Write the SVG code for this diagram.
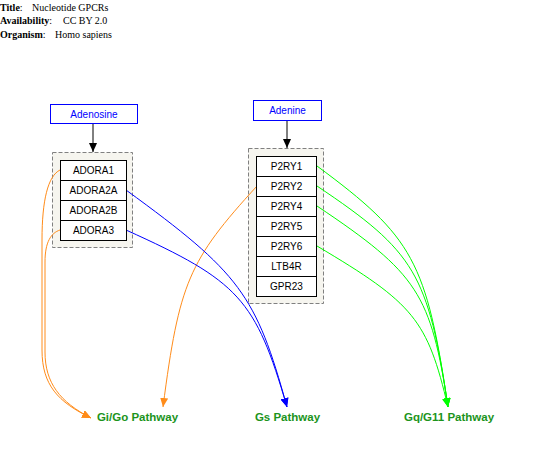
<svg xmlns="http://www.w3.org/2000/svg" width="549" height="458" viewBox="0 0 549 458">
<style>
.hdr{font-family:"Liberation Serif","Times New Roman",serif;font-size:10px;fill:#000}
.hdr .b{font-weight:bold}
.grp{fill:#f6f5ef;stroke:#808080;stroke-width:1;stroke-dasharray:4,2}
.node rect{fill:#fff;stroke:#000;stroke-width:1}
.node text{font-family:"Liberation Sans",Arial,sans-serif;font-size:10px;fill:#000;text-anchor:middle}
.lig rect{fill:#fff;stroke:#0000ff;stroke-width:1}
.lig text{font-family:"Liberation Sans",Arial,sans-serif;font-size:10px;fill:#0000ff;text-anchor:middle}
.pw text{font-family:"Liberation Sans",Arial,sans-serif;font-size:11.5px;font-weight:bold;fill:#1c941c;text-anchor:middle}
.c{fill:none;stroke-width:1}
.k{stroke:#000;marker-end:url(#ak)}
.o{stroke:#ff8c1a;marker-end:url(#ao)}
.bl{stroke:#0000ff;marker-end:url(#ab)}
.g{stroke:#00ff00;marker-end:url(#ag)}
</style>
<defs>
<marker id="ak" viewBox="0 0 9 8" refX="9" refY="4" markerWidth="9" markerHeight="8" markerUnits="userSpaceOnUse" orient="auto"><path d="M0,0 L9,4 L0,8 z" fill="#000"/></marker>
<marker id="ao" viewBox="0 0 9 8" refX="9" refY="4" markerWidth="9" markerHeight="8" markerUnits="userSpaceOnUse" orient="auto"><path d="M0,0 L9,4 L0,8 z" fill="#ff8c1a"/></marker>
<marker id="ab" viewBox="0 0 9 8" refX="9" refY="4" markerWidth="9" markerHeight="8" markerUnits="userSpaceOnUse" orient="auto"><path d="M0,0 L9,4 L0,8 z" fill="#0000ff"/></marker>
<marker id="ag" viewBox="0 0 9 8" refX="9" refY="4" markerWidth="9" markerHeight="8" markerUnits="userSpaceOnUse" orient="auto"><path d="M0,0 L9,4 L0,8 z" fill="#00ff00"/></marker>
</defs>
<rect width="549" height="458" fill="#fff"/>
<g id="header" class="hdr">
<text x="0" y="11"><tspan class="b">Title</tspan>:</text><text x="32" y="11">Nucleotide GPCRs</text>
<text x="0" y="24"><tspan class="b">Availability</tspan>:</text><text x="63" y="24">CC BY 2.0</text>
<text x="0" y="38"><tspan class="b">Organism</tspan>:</text><text x="55" y="38">Homo sapiens</text>
</g>
<g id="group-adora"><rect class="grp" x="52.5" y="152.5" width="80" height="95"/></g>
<g id="group-p2ry"><rect class="grp" x="248.5" y="148.5" width="75" height="155"/></g>
<g id="connectors">
<path class="c k" d="M93,123.5 L93,152"/>
<path class="c k" d="M287,120.5 L287,148"/>
<path class="c o" d="M60,170 C48,176 42,200 42,240 L42,350 C42,385 58,402 91,418"/>
<path class="c o" d="M60,230 C51,233 45,242 45,262 L45,352 C45,383 60,402 91,418"/>
<path class="c o" d="M257,186 C188.6,260.7 179.2,282.8 163,407"/>
<path class="c bl" d="M126,190 C240,273 256,294.5 287,407"/>
<path class="c bl" d="M126,230 C239,281 255.5,299 287,407"/>
<path class="c g" d="M317,166 C413.3,237.1 426.4,261.2 448,407"/>
<path class="c g" d="M317,186 C415.1,251.7 428.2,273.8 448,407"/>
<path class="c g" d="M317,206 C417.8,273.5 430.9,293.6 448,407"/>
<path class="c g" d="M317,246 C414.2,303.6 427.3,319.7 448,407"/>
</g>
<g id="adenosine" class="lig"><rect x="50.5" y="104.5" width="87" height="19"/><text x="94" y="117.5">Adenosine</text></g>
<g id="adenine" class="lig"><rect x="253.5" y="100.5" width="68" height="20"/><text x="287.5" y="114">Adenine</text></g>
<g id="ADORA1" class="node"><rect x="60.5" y="160.5" width="66" height="20"/><text x="93.5" y="174">ADORA1</text></g>
<g id="ADORA2A" class="node"><rect x="60.5" y="180.5" width="66" height="20"/><text x="93.5" y="194">ADORA2A</text></g>
<g id="ADORA2B" class="node"><rect x="60.5" y="200.5" width="66" height="20"/><text x="93.5" y="214">ADORA2B</text></g>
<g id="ADORA3" class="node"><rect x="60.5" y="220.5" width="66" height="20"/><text x="93.5" y="234">ADORA3</text></g>
<g id="P2RY1" class="node"><rect x="256.5" y="156.5" width="60" height="20"/><text x="286.5" y="170">P2RY1</text></g>
<g id="P2RY2" class="node"><rect x="256.5" y="176.5" width="60" height="20"/><text x="286.5" y="190">P2RY2</text></g>
<g id="P2RY4" class="node"><rect x="256.5" y="196.5" width="60" height="20"/><text x="286.5" y="210">P2RY4</text></g>
<g id="P2RY5" class="node"><rect x="256.5" y="216.5" width="60" height="20"/><text x="286.5" y="230">P2RY5</text></g>
<g id="P2RY6" class="node"><rect x="256.5" y="236.5" width="60" height="20"/><text x="286.5" y="250">P2RY6</text></g>
<g id="LTB4R" class="node"><rect x="256.5" y="256.5" width="60" height="20"/><text x="286.5" y="270">LTB4R</text></g>
<g id="GPR23" class="node"><rect x="256.5" y="276.5" width="60" height="20"/><text x="286.5" y="290">GPR23</text></g>
<g id="gigo" class="pw"><text x="137.5" y="421">Gi/Go Pathway</text></g>
<g id="gs" class="pw"><text x="287.5" y="421">Gs Pathway</text></g>
<g id="gq" class="pw"><text x="449" y="421">Gq/G11 Pathway</text></g>
</svg>
